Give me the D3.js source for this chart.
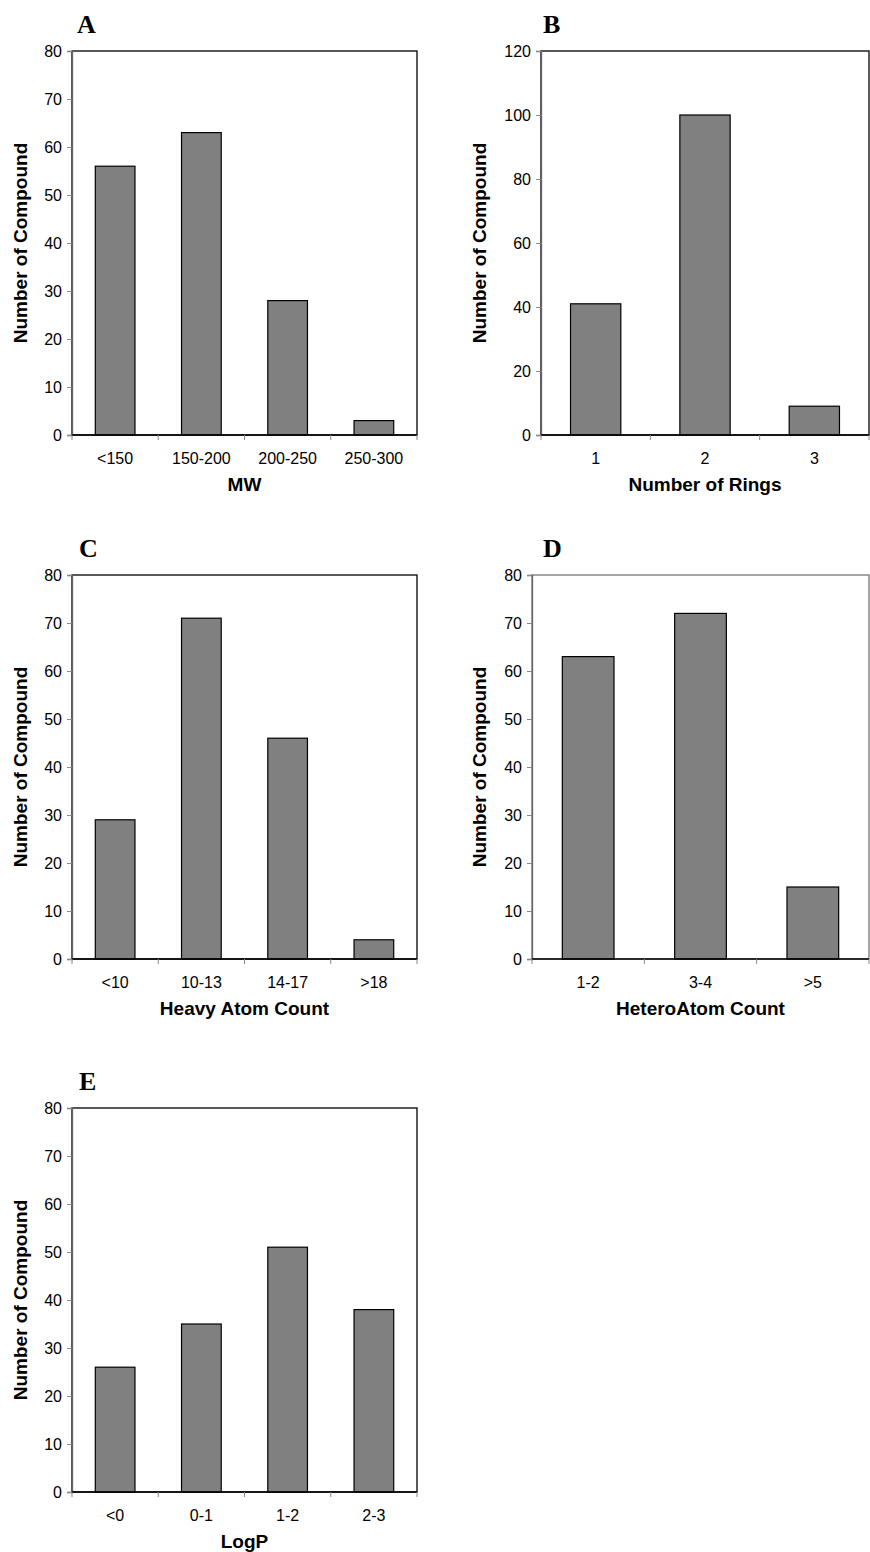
<!DOCTYPE html>
<html><head><meta charset="utf-8">
<script src="https://cdn.jsdelivr.net/npm/d3@7"></script>
<style>body{margin:0;background:#fff;} svg{display:block;}</style>
</head><body>
<svg id="chart" width="870" height="1552"></svg>
<script>
// ---- data ----
const mwCategories = ["<150", "150-200", "200-250", "250-300"];
const mwValues = [56, 63, 28, 3];
const ringCategories = ["1", "2", "3"];
const ringValues = [41, 100, 9];
const heavyCategories = ["<10", "10-13", "14-17", ">18"];
const heavyValues = [29, 71, 46, 4];
const heteroCategories = ["1-2", "3-4", ">5"];
const heteroValues = [63, 72, 15];
const logpCategories = ["<0", "0-1", "1-2", "2-3"];
const logpValues = [26, 35, 51, 38];
const ticks80 = [0, 10, 20, 30, 40, 50, 60, 70, 80];
const ticks120 = [0, 20, 40, 60, 80, 100, 120];
const yTitle = "Number of Compound";

const panels = [
  {letter:"A", cats:mwCategories, vals:mwValues, ticks:ticks80, xt:"MW",
   x0:72, x1:417, y0:51, y1:435, lx:77, ly:33, tx:27, frame:"#000"},
  {letter:"B", cats:ringCategories, vals:ringValues, ticks:ticks120, xt:"Number of Rings",
   x0:541, x1:869, y0:51, y1:435, lx:543, ly:33, tx:486, frame:"#000"},
  {letter:"C", cats:heavyCategories, vals:heavyValues, ticks:ticks80, xt:"Heavy Atom Count",
   x0:72, x1:417, y0:575, y1:959, lx:79, ly:557, tx:27, frame:"#000"},
  {letter:"D", cats:heteroCategories, vals:heteroValues, ticks:ticks80, xt:"HeteroAtom Count",
   x0:532, x1:869, y0:575, y1:959, lx:543, ly:557, tx:486, frame:"#777"},
  {letter:"E", cats:logpCategories, vals:logpValues, ticks:ticks80, xt:"LogP",
   x0:72, x1:417, y0:1108, y1:1492, lx:79, ly:1090, tx:27, frame:"#000"}
];

const svg = d3.select("#chart");
const sans = "'Liberation Sans', Arial, sans-serif";

panels.forEach(p => {
  const g = svg.append("g");
  const x = d3.scaleBand().domain(p.cats).range([p.x0, p.x1])
    .paddingInner(0.54).paddingOuter(0.27);
  const y = d3.scaleLinear().domain([0, d3.max(p.ticks)]).range([p.y1, p.y0]);

  // frame
  g.append("rect").attr("x", p.x0).attr("y", p.y0)
    .attr("width", p.x1 - p.x0).attr("height", p.y1 - p.y0)
    .attr("fill", "none").attr("stroke", p.frame).attr("stroke-width", 1.3);

  // bars
  g.selectAll("rect.bar").data(p.vals).enter().append("rect")
    .attr("class", "bar")
    .attr("x", (d, i) => x(p.cats[i]))
    .attr("width", x.bandwidth())
    .attr("y", d => y(d))
    .attr("height", d => y(0) - y(d))
    .attr("fill", "#808080").attr("stroke", "#000").attr("stroke-width", 1.2);

  // y axis
  const ya = g.append("g").attr("transform", `translate(${p.x0},0)`)
    .call(d3.axisLeft(y).tickValues(p.ticks).tickSize(5).tickPadding(5));
  ya.select(".domain").attr("stroke", "#666").attr("stroke-width", 1.3);
  ya.selectAll(".tick line").attr("stroke", "#888");
  ya.selectAll(".tick text").attr("font-family", sans).attr("font-size", 16).attr("fill", "#000");

  // x axis
  const xa = g.append("g").attr("transform", `translate(0,${p.y1})`)
    .call(d3.axisBottom(x).tickSize(0).tickPadding(18));
  xa.select(".domain").remove();
  xa.selectAll(".tick text").attr("font-family", sans).attr("font-size", 16).attr("fill", "#000");
  g.append("line").attr("x1", p.x0).attr("x2", p.x1).attr("y1", p.y1).attr("y2", p.y1)
    .attr("stroke", "#000").attr("stroke-width", 1.5);
  // boundary ticks
  const bounds = d3.range(p.cats.length + 1).map(i => p.x0 + i * x.step());
  g.selectAll("line.xt").data(bounds).enter().append("line")
    .attr("x1", d => d).attr("x2", d => d)
    .attr("y1", p.y1).attr("y2", p.y1 + 5)
    .attr("stroke", "#888").attr("stroke-width", 1);

  // x title
  g.append("text").attr("x", (p.x0 + p.x1) / 2).attr("y", p.y1 + 56)
    .attr("text-anchor", "middle").attr("font-family", sans)
    .attr("font-weight", "bold").attr("font-size", 19).text(p.xt);

  // y title
  g.append("text")
    .attr("transform", `translate(${p.tx},${(p.y0 + p.y1) / 2}) rotate(-90)`)
    .attr("text-anchor", "middle").attr("font-family", sans)
    .attr("font-weight", "bold").attr("font-size", 19).text(yTitle);

  // panel letter
  g.append("text").attr("x", p.lx).attr("y", p.ly)
    .attr("font-family", "'Liberation Serif', 'Times New Roman', serif")
    .attr("font-weight", "bold").attr("font-size", 26).text(p.letter);
});
</script>
</body></html>
